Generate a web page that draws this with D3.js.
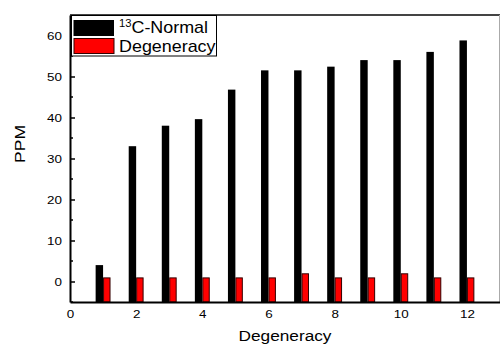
<!DOCTYPE html>
<html>
<head>
<meta charset="utf-8">
<script src="https://cdn.jsdelivr.net/npm/d3@7"></script>
<style>
  html, body { margin: 0; padding: 0; background: #fff; }
  text { font-family: "Liberation Sans", Arial, sans-serif; fill: #000; }
</style>
</head>
<body>
<svg id="chart" width="500" height="344"></svg>
<script>
// Degeneracy levels and the two measured series
const degeneracy = [1, 2, 3, 4, 5, 6, 7, 8, 9, 10, 11, 12];
const normal13C = [4, 33, 38, 39.6, 46.8, 51.5, 51.5, 52.4, 54, 54, 56, 58.8];
const degeneracyPPM = [1, 1, 1, 1, 1, 1, 2, 1, 1, 2, 1, 1];

// Axis ticks
const yMajorTicks = [0, 10, 20, 30, 40, 50, 60];
const yMinorTicks = [-5, 5, 15, 25, 35, 45, 55];
const xTicks = [0, 2, 4, 6, 8, 10, 12];

const svg = d3.select("#chart");
const plotLeft = 70, plotRight = 500, plotTop = 15, plotBottom = 302;

const x = d3.scaleLinear().domain([0, 13]).range([plotLeft, plotRight]);
const y = d3.scaleLinear().domain([-5, 65]).range([plotBottom, plotTop]);
const halfW = x(0.225) - x(0);

// Horizontal widening applied to the Arial-style labels
const SX = 1.22;

// Bars: 13C-Normal to the left of each degeneracy value, Degeneracy to the right
const bars = svg.append("g");
bars.selectAll("rect.normal")
  .data(degeneracy)
  .join("rect")
  .attr("class", "normal")
  .attr("x", d => x(d) - halfW)
  .attr("width", halfW)
  .attr("y", (d, i) => y(normal13C[i]))
  .attr("height", (d, i) => y(-5) - y(normal13C[i]))
  .attr("fill", "#000");

bars.selectAll("rect.degen")
  .data(degeneracy)
  .join("rect")
  .attr("class", "degen")
  .attr("x", d => x(d) + 0.5)
  .attr("width", halfW - 1)
  .attr("y", (d, i) => y(degeneracyPPM[i]) + 0.5)
  .attr("height", (d, i) => y(-5) - y(degeneracyPPM[i]) - 0.5)
  .attr("fill", "#ff0000")
  .attr("stroke", "#300")
  .attr("stroke-width", 1);

// Frame: top and right edges
svg.append("line")
  .attr("x1", plotLeft).attr("x2", plotRight)
  .attr("y1", plotTop).attr("y2", plotTop)
  .attr("stroke", "#444").attr("stroke-width", 2);
svg.append("line")
  .attr("x1", plotRight - 0.5).attr("x2", plotRight - 0.5)
  .attr("y1", plotTop).attr("y2", plotBottom)
  .attr("stroke", "#aaa").attr("stroke-width", 1);

// Y axis with inward ticks
const yAxis = svg.append("g")
  .attr("transform", `translate(${plotLeft},0)`)
  .call(d3.axisLeft(y).tickValues(yMajorTicks).tickSizeInner(-5).tickSizeOuter(0).tickPadding(8));
yAxis.select(".domain").attr("stroke-width", 2).attr("stroke", "#000");
yAxis.selectAll(".tick line").attr("stroke-width", 1.5).attr("x1", 1);
yAxis.selectAll(".tick text")
  .attr("font-size", 11)
  .attr("font-family", "Liberation Sans, Arial, sans-serif")
  .attr("transform", function () {
    const tx = +d3.select(this).attr("x");
    return `translate(${tx},0) scale(${SX},1)`;
  })
  .attr("x", 0);
yAxis.selectAll(".minor")
  .data(yMinorTicks)
  .join("line")
  .attr("class", "minor")
  .attr("x1", 1).attr("x2", 3)
  .attr("y1", d => y(d)).attr("y2", d => y(d))
  .attr("stroke", "#000").attr("stroke-width", 1.5);

// X axis
const xAxis = svg.append("g")
  .attr("transform", `translate(0,${plotBottom})`)
  .call(d3.axisBottom(x).tickValues(xTicks).tickSize(0).tickPadding(8));
xAxis.select(".domain").attr("stroke-width", 2).attr("stroke", "#000");
xAxis.selectAll(".tick text")
  .attr("font-size", 11)
  .attr("font-family", "Liberation Sans, Arial, sans-serif")
  .attr("dy", null)
  .attr("transform", `translate(0,16) scale(${SX},1)`)
  .attr("y", 0);

// Axis titles
svg.append("text")
  .attr("transform", `translate(${(plotLeft + plotRight) / 2},340.5) scale(1.15,1)`)
  .attr("text-anchor", "middle")
  .attr("font-size", 15)
  .text("Degeneracy");
svg.append("text")
  .attr("transform", "translate(25,144) rotate(-90) scale(1.17,1)")
  .attr("text-anchor", "middle")
  .attr("font-size", 15)
  .text("PPM");

// Legend
const legend = svg.append("g");
legend.append("rect")
  .attr("x", 71.5).attr("y", 15.5)
  .attr("width", 145).attr("height", 40.5)
  .attr("fill", "#fff").attr("stroke", "#000").attr("stroke-width", 1);
legend.append("rect")
  .attr("x", 73.5).attr("y", 20)
  .attr("width", 40.5).attr("height", 16)
  .attr("fill", "#000");
legend.append("rect")
  .attr("x", 74).attr("y", 38.5)
  .attr("width", 40).attr("height", 15)
  .attr("fill", "#ff0000").attr("stroke", "#300").attr("stroke-width", 1);
const l1 = legend.append("text")
  .attr("transform", "translate(119,32.7) scale(1.12,1)")
  .attr("font-size", 16);
l1.append("tspan").attr("font-size", 10).attr("dy", -6).text("13");
l1.append("tspan").attr("dy", 6).text("C-Normal");
legend.append("text")
  .attr("transform", "translate(119,51.7) scale(1.12,1)")
  .attr("font-size", 16)
  .text("Degeneracy");
</script>
</body>
</html>
